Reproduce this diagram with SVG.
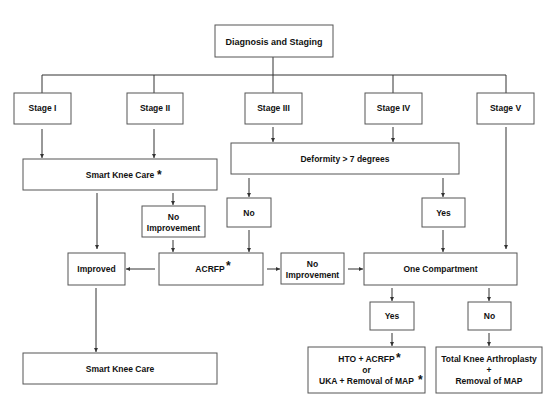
<svg xmlns="http://www.w3.org/2000/svg" width="560" height="420" viewBox="0 0 560 420">
<style>
rect{fill:#fff;stroke:#555;stroke-width:1}
text{font-family:"Liberation Sans",Arial,sans-serif;font-weight:bold;font-size:8.5px;fill:#111;text-anchor:middle}
.big{font-size:9px}
.ast{font-size:12px;text-anchor:start}
#connectors path{fill:none;stroke:#333;stroke-width:1}
</style>
<defs>
<marker id="arr" viewBox="0 0 10 10" refX="10" refY="5" markerWidth="4" markerHeight="4" markerUnits="userSpaceOnUse" orient="auto"><path d="M0,0 L10,5 L0,10 z" fill="#333"/></marker>
</defs>
<rect x="0" y="0" width="560" height="420" style="stroke:none"/>
<g id="connectors">
<path d="M273,57 V75 M42,75 H506 M42,75 V93 M154,75 V93 M273,75 V93 M393,75 V93 M506,75 V93"/>
<g marker-end="url(#arr)">
<path d="M42,129 V158"/>
<path d="M154,129 V158"/>
<path d="M273,127 V142"/>
<path d="M393,127 V142"/>
<path d="M506,127 V249"/>
<path d="M97,193 V249"/>
<path d="M173,193 V205"/>
<path d="M173,240 V252"/>
<path d="M249,178 V197"/>
<path d="M249,230 V252"/>
<path d="M443,178 V197"/>
<path d="M443,230 V252"/>
<path d="M155,269 H126"/>
<path d="M267,269 H280"/>
<path d="M348,269 H363"/>
<path d="M392,288 V301"/>
<path d="M489,288 V301"/>
<path d="M392,333 V346"/>
<path d="M489,333 V346"/>
<path d="M96,288 V352"/>
</g>
</g>
<g id="diagnosis"><rect x="215" y="25" width="118" height="32"/><text class="big" x="274" y="45">Diagnosis and Staging</text></g>
<g id="stage1"><rect x="14" y="93" width="57" height="31"/><text x="42.5" y="111">Stage I</text></g>
<g id="stage2"><rect x="127" y="93" width="56" height="31"/><text x="155" y="111">Stage II</text></g>
<g id="stage3"><rect x="245" y="93" width="57" height="31"/><text x="273.5" y="111">Stage III</text></g>
<g id="stage4"><rect x="365" y="93" width="57" height="31"/><text x="393.5" y="111">Stage IV</text></g>
<g id="stage5"><rect x="477" y="93" width="57" height="31"/><text x="505.5" y="111">Stage V</text></g>
<g id="smartknee1"><rect x="23" y="159" width="194" height="31"/><text x="120" y="178">Smart Knee Care</text><text class="ast" x="157" y="179">*</text></g>
<g id="deformity"><rect x="231" y="143" width="228" height="31"/><text x="345" y="162">Deformity &gt; 7 degrees</text></g>
<g id="noimp1"><rect x="142" y="206" width="63" height="31"/><text x="173.5" y="220">No</text><text x="173.5" y="231">Improvement</text></g>
<g id="no1"><rect x="227" y="198" width="44" height="29"/><text x="249" y="216">No</text></g>
<g id="yes1"><rect x="422" y="198" width="43" height="29"/><text x="443.5" y="216">Yes</text></g>
<g id="improved"><rect x="68" y="253" width="57" height="32"/><text x="96.5" y="272">Improved</text></g>
<g id="acrfp"><rect x="159" y="253" width="104" height="32"/><text x="210" y="272">ACRFP</text><text class="ast" x="226" y="270">*</text></g>
<g id="noimp2"><rect x="281" y="253" width="63" height="31"/><text x="312.5" y="267">No</text><text x="312.5" y="278">Improvement</text></g>
<g id="onecomp"><rect x="364" y="253" width="153" height="32"/><text x="440.5" y="272">One Compartment</text></g>
<g id="yes2"><rect x="370" y="302" width="44" height="28"/><text x="392" y="319">Yes</text></g>
<g id="no2"><rect x="468" y="302" width="43" height="28"/><text x="489.5" y="319">No</text></g>
<g id="hto"><rect x="308" y="347" width="117" height="46"/><text x="366.5" y="362">HTO + ACRFP</text><text class="ast" x="396" y="362">*</text><text x="366.5" y="373">or</text><text x="366.5" y="384">UKA + Removal of MAP</text><text class="ast" x="418" y="384">*</text></g>
<g id="tka"><rect x="436" y="347" width="106" height="46"/><text x="489" y="362">Total Knee Arthroplasty</text><text x="489" y="373">+</text><text x="489" y="384">Removal of MAP</text></g>
<g id="smartknee2"><rect x="23" y="353" width="194" height="31"/><text x="120" y="372">Smart Knee Care</text></g>
</svg>
